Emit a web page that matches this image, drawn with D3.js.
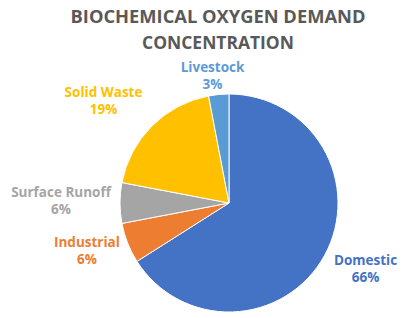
<html>
<head>
<style>
  body { margin: 0; background: #fff; }
  text { font-family: "Open Sans", sans-serif; font-weight: bold; }
</style>
</head>
<body>
<svg id="chart" width="407" height="318"></svg>
<script src="https://cdn.jsdelivr.net/npm/d3@7"></script>
<script>
  // chart data
  let categories = ["Domestic", "Industrial", "Surface Runoff", "Solid Waste", "Livestock"]
  let shares = [66, 6, 6, 19, 3]
  let titleLines = ["BIOCHEMICAL OXYGEN DEMAND", "CONCENTRATION"]

  // look
  let colors = ["#4472C4", "#ED7D31", "#A5A5A5", "#FFC000", "#5B9BD5"]
  // label shift from the slice's outer edge (middle of its arc)
  let labelShift = [[41, 12.5], [-40.7, 6.9], [-59, -3], [-48.4, -25.9], [-6.2, -19.5]]

  let svg = d3.select("#chart")
  let cx = 229, cy = 203, radius = 109

  // title
  let titleWidths = [295, 152]
  svg.selectAll("text.title").data(titleLines)
    .enter().append("text")
    .attr("class", "title")
    .attr("x", 218)
    .attr("y", (d, i) => 23 + i * 26)
    .attr("text-anchor", "middle")
    .attr("fill", "#595959")
    .attr("font-size", 17)
    .text(d => d)
    .each(function (d, i) {
      let w = this.getComputedTextLength()
      d3.select(this).attr("font-size", 17 * titleWidths[i] / w)
    })

  let rows = categories.map((c, i) => ({ name: c, value: shares[i], i: i }))

  let pie = d3.pie().value(d => d.value).sort(null)
  let arc = d3.arc().innerRadius(0).outerRadius(radius)
  let edge = d3.arc().innerRadius(radius).outerRadius(radius)

  let g = svg.append("g").attr("transform", `translate(${cx},${cy})`)

  g.selectAll("path").data(pie(rows))
    .enter().append("path")
    .attr("d", arc)
    .attr("fill", d => colors[d.data.i])
    .attr("stroke", "#fff")
    .attr("stroke-width", 1)

  let labels = g.selectAll("g.label").data(pie(rows))
    .enter().append("g")
    .attr("class", "label")
    .attr("transform", d => {
      let p = edge.centroid(d)
      let s = labelShift[d.data.i]
      return `translate(${p[0] + s[0]},${p[1] + s[1]})`
    })

  labels.append("text")
    .attr("text-anchor", "middle")
    .attr("y", -3)
    .attr("font-size", 13.5)
    .attr("fill", d => colors[d.data.i])
    .text(d => d.data.name)

  labels.append("text")
    .attr("text-anchor", "middle")
    .attr("y", 14)
    .attr("font-size", 13.5)
    .attr("fill", d => colors[d.data.i])
    .text(d => d.data.value + "%")
</script>
</body>
</html>
